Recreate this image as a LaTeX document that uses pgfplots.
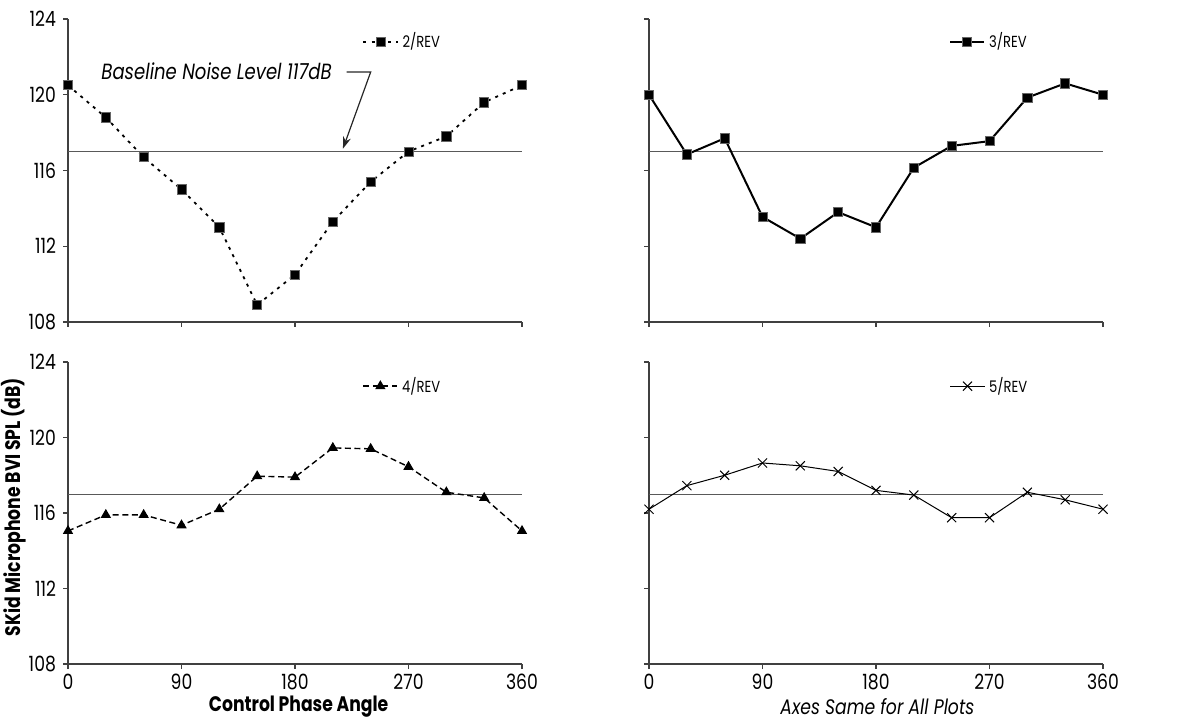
\documentclass[border=0pt]{standalone}
\usepackage{fontspec}
\setmainfont{Poppins}[FakeStretch=0.82]
\usepackage{pgfplots}
\pgfplotsset{compat=1.18}
\usetikzlibrary{arrows.meta}

\pgfplotsset{
 panel/.style={
  scale only axis, width=227pt, height=151.5pt,
  xmin=0,xmax=360,ymin=108,ymax=124,
  xtick={0,90,180,270,360}, ytick={108,112,116,120,124},
  axis lines=left, axis line style={-, color=black!75, line width=0.7pt},
  tick align=outside, major tick length=2.5pt, tick style={black!75, line width=0.6pt},
  tick label style={font=\fontsize{10.5}{12}\selectfont, /pgf/number format/assume math mode=true},
  xticklabel style={yshift=1pt},
  /pgf/number format/1000 sep={},
  clip=false,
  legend style={draw=none, fill=none, font=\fontsize{8}{9}\selectfont, anchor=west, inner sep=0pt, legend cell align=left},
 },
 base/.style={black!65, line width=0.6pt, forget plot},
}

\begin{document}
\begin{tikzpicture}
\useasboundingbox (0,0) rectangle (601pt,361.5pt);

% top-left: 2/REV
\begin{axis}[panel, at={(34pt,200.5pt)}, anchor=south west, xticklabels={},
  legend style={at={(0.648,0.925)}}]
\addplot[base] coordinates {(0,117)(360,117)};
\addplot[black, line width=0.9pt, dash pattern=on 1.5pt off 2.6pt, mark=square*, mark size=2.3pt, mark options={solid, fill=black, draw=black!60, line width=0.4pt}]
coordinates {(0,120.5)(30,118.8)(60,116.7)(90,115.0)(120,113.0)(150,108.9)(180,110.5)(210,113.3)(240,115.4)(270,117.0)(300,117.8)(330,119.6)(360,120.5)};
\addlegendentry{2/REV}
\node[anchor=east, font=\itshape\fontsize{11}{13}\selectfont, inner sep=1pt] at (axis cs:211,121.25) {Baseline Noise Level 117dB};
\draw[black!85, line width=0.6pt, -{Stealth[length=6pt,width=4pt]}] (axis cs:221,121.2) -- (axis cs:240,121.2) -- (axis cs:218,117.15);
\end{axis}

% top-right: 3/REV
\begin{axis}[panel, at={(324.5pt,200.5pt)}, anchor=south west, xticklabels={}, yticklabels={},
  legend style={at={(0.66,0.925)}}]
\addplot[base] coordinates {(0,117)(360,117)};
\addplot[black, line width=1pt, mark=square*, mark size=2.3pt, mark options={solid, fill=black, draw=black!60, line width=0.4pt}]
coordinates {(0,120.0)(30,116.85)(60,117.7)(90,113.55)(120,112.4)(150,113.8)(180,113.0)(210,116.15)(240,117.3)(270,117.55)(300,119.85)(330,120.6)(360,120.0)};
\addlegendentry{3/REV}
\end{axis}

% bottom-left: 4/REV
\begin{axis}[panel, at={(34pt,29.5pt)}, anchor=south west, height=151pt,
  legend style={at={(0.648,0.92)}},
  ylabel={\bfseries SKid Microphone BVI SPL (dB)},
  ylabel style={at={(axis description cs:-0.119,0.52)}, anchor=center, font=\fontsize{10.5}{12}\selectfont},
  xlabel={\bfseries Control Phase Angle},
  xlabel style={at={(axis description cs:0.508,0)}, anchor=center, yshift=-21.5pt, font=\fontsize{10.5}{12}\selectfont}]
\addplot[base] coordinates {(0,117)(360,117)};
\addplot[black, line width=0.7pt, dash pattern=on 3pt off 1.8pt, mark=triangle*, mark size=2.3pt, mark options={solid, fill=black}]
coordinates {(0,115.05)(30,115.9)(60,115.9)(90,115.35)(120,116.2)(150,117.95)(180,117.9)(210,119.45)(240,119.4)(270,118.45)(300,117.1)(330,116.8)(360,115.05)};
\addlegendentry{4/REV}
\end{axis}

% bottom-right: 5/REV
\begin{axis}[panel, at={(324.5pt,29.5pt)}, anchor=south west, height=151pt, yticklabels={},
  legend style={at={(0.662,0.92)}},
  xlabel={\itshape Axes Same for All Plots},
  xlabel style={at={(axis description cs:0.503,0)}, anchor=center, yshift=-21.5pt, font=\fontsize{10.5}{12}\selectfont}]
\addplot[base] coordinates {(0,117)(360,117)};
\addplot[black, line width=0.5pt, mark=x, mark size=3.2pt, mark options={solid, line width=0.5pt}]
coordinates {(0,116.2)(30,117.45)(60,118.0)(90,118.65)(120,118.5)(150,118.2)(180,117.2)(210,116.95)(240,115.75)(270,115.75)(300,117.1)(330,116.7)(360,116.2)};
\addlegendentry{5/REV}
\end{axis}
\end{tikzpicture}
\end{document}
